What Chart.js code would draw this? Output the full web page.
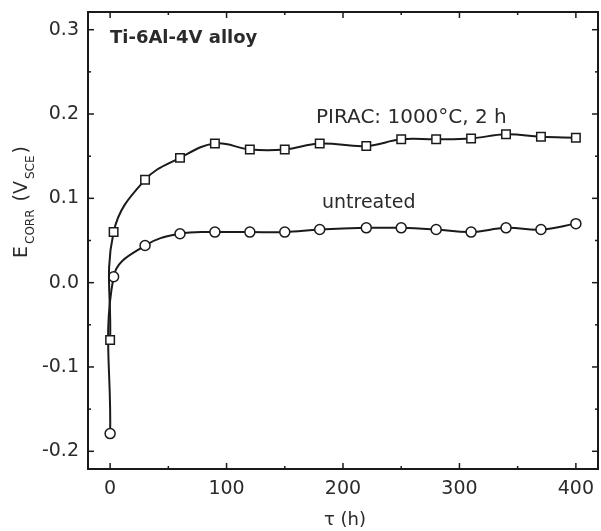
<!DOCTYPE html>
<html>
<head>
<meta charset="utf-8">
<script src="https://cdn.jsdelivr.net/npm/chart.js@4"></script>
<style>
  html, body { margin: 0; padding: 0; background: #fff; }
  #wrap { width: 601px; height: 531px; }
</style>
</head>
<body>
<div id="wrap"><canvas id="ecorrChart" width="601" height="531"></canvas></div>
<script>
// exposure time (h)
const hours = [0, 3, 30, 60, 90, 120, 150, 180, 220, 250, 280, 310, 340, 370, 400];
// E_corr (V vs SCE)
const piracE = [-0.068, 0.060, 0.122, 0.148, 0.165, 0.158, 0.158, 0.165, 0.162, 0.170, 0.170, 0.171, 0.176, 0.173, 0.172];
const untreatedE = [-0.179, 0.007, 0.044, 0.058, 0.060, 0.060, 0.060, 0.063, 0.065, 0.065, 0.063, 0.060, 0.065, 0.063, 0.070];

const xTicks = [0, 100, 200, 300, 400];
const yTicks = [-0.2, -0.1, 0.0, 0.1, 0.2, 0.3];

const ink = '#1a1a1a';
const textColor = '#2b2b2b';

// frame + inward ticks on all four sides
const framePlugin = {
    id: 'frame',
    beforeDatasetsDraw(chart) {
        const { ctx, chartArea: a, scales } = chart;
        const xs = scales.x, ys = scales.y;
        ctx.save();
        ctx.strokeStyle = ink;
        ctx.lineWidth = 2;
        ctx.strokeRect(a.left, a.top, a.right - a.left, a.bottom - a.top);
        ctx.lineWidth = 1.5;
        const tick = (x1, y1, x2, y2) => {
            ctx.beginPath();
            ctx.moveTo(x1, y1);
            ctx.lineTo(x2, y2);
            ctx.stroke();
        };
        const xStep = xTicks[1] - xTicks[0];
        xTicks.forEach((v, i) => {
            const px = xs.getPixelForValue(v);
            tick(px, a.bottom, px, a.bottom - 6);
            tick(px, a.top, px, a.top + 6);
            if (i < xTicks.length - 1) {
                const mx = xs.getPixelForValue(v + xStep / 2);
                tick(mx, a.bottom, mx, a.bottom - 3);
                tick(mx, a.top, mx, a.top + 3);
            }
        });
        const yStep = yTicks[1] - yTicks[0];
        yTicks.forEach((v, i) => {
            const py = ys.getPixelForValue(v);
            tick(a.left, py, a.left + 6, py);
            tick(a.right, py, a.right - 6, py);
            if (i < yTicks.length - 1) {
                const my = ys.getPixelForValue(v + yStep / 2);
                tick(a.left, my, a.left + 3, my);
                tick(a.right, my, a.right - 3, my);
            }
        });
        ctx.restore();
    },
    afterDraw(chart) {
        const { ctx } = chart;
        ctx.save();
        ctx.fillStyle = textColor;
        ctx.textBaseline = 'alphabetic';
        ctx.textAlign = 'left';

        ctx.font = 'bold 18px "DejaVu Sans"';
        ctx.fillText('Ti-6Al-4V alloy', 110, 43);

        ctx.font = '20px "DejaVu Sans"';
        ctx.fillText('PIRAC: 1000°C, 2 h', 316, 123);
        ctx.font = '19px "DejaVu Sans"';
        ctx.fillText('untreated', 322, 208);

        // x axis title
        ctx.font = '18px "DejaVu Sans"';
        ctx.textAlign = 'center';
        ctx.fillText('τ (h)', 345, 525);

        // y axis title with subscripts, rotated
        ctx.translate(27, 258);
        ctx.rotate(-Math.PI / 2);
        ctx.textAlign = 'left';
        const parts = [
            ['E', false], ['CORR', true], [' (V', false], ['SCE', true], [')', false]
        ];
        let x = 0;
        parts.forEach(([t, sub]) => {
            ctx.font = sub ? '12px "DejaVu Sans"' : '19px "DejaVu Sans"';
            ctx.fillText(t, x + (sub ? 2 : 0), sub ? 7 : 0);
            x += ctx.measureText(t).width + (sub ? 4 : 0);
        });
        ctx.restore();
    }
};

const noPad = scale => {
    scale.paddingLeft = 0;
    scale.paddingRight = 0;
    scale.paddingTop = 0;
    scale.paddingBottom = 0;
};

new Chart(document.getElementById('ecorrChart'), {
    type: 'line',
    data: {
        datasets: [{
            label: 'PIRAC: 1000°C, 2 h',
            data: hours.map((h, i) => ({ x: h, y: piracE[i] })),
            borderColor: ink,
            borderWidth: 2,
            pointStyle: 'rect',
            pointRadius: 6,
            pointBorderWidth: 1.5,
            pointBorderColor: ink,
            pointBackgroundColor: '#fff',
            tension: 0.4,
            fill: false
        }, {
            label: 'untreated',
            data: hours.map((h, i) => ({ x: h, y: untreatedE[i] })),
            borderColor: ink,
            borderWidth: 2,
            pointStyle: 'circle',
            pointRadius: 5,
            pointBorderWidth: 1.5,
            pointBorderColor: ink,
            pointBackgroundColor: '#fff',
            tension: 0.4,
            fill: false
        }]
    },
    options: {
        responsive: false,
        animation: false,
        events: [],
        layout: {
            autoPadding: false,
            padding: { left: 0, right: 3, top: 12, bottom: 0 }
        },
        plugins: {
            legend: { display: false },
            title: { display: false },
            tooltip: { enabled: false }
        },
        scales: {
            x: {
                type: 'linear',
                min: -19,
                max: 419,
                grid: { display: false, drawTicks: false },
                border: { display: false },
                afterBuildTicks: scale => { scale.ticks = xTicks.map(v => ({ value: v })); },
                afterFit: scale => { scale.height = 62; noPad(scale); },
                ticks: {
                    padding: 9,
                    color: textColor,
                    font: { family: '"DejaVu Sans"', size: 19 },
                    callback: v => String(v)
                }
            },
            y: {
                type: 'linear',
                min: -0.221,
                max: 0.321,
                grid: { display: false, drawTicks: false },
                border: { display: false },
                afterBuildTicks: scale => { scale.ticks = yTicks.map(v => ({ value: v })); },
                afterFit: scale => { scale.width = 88; noPad(scale); },
                ticks: {
                    padding: 9,
                    color: textColor,
                    font: { family: '"DejaVu Sans"', size: 19 },
                    callback: v => v.toFixed(1)
                }
            }
        }
    },
    plugins: [framePlugin]
});
</script>
</body>
</html>
